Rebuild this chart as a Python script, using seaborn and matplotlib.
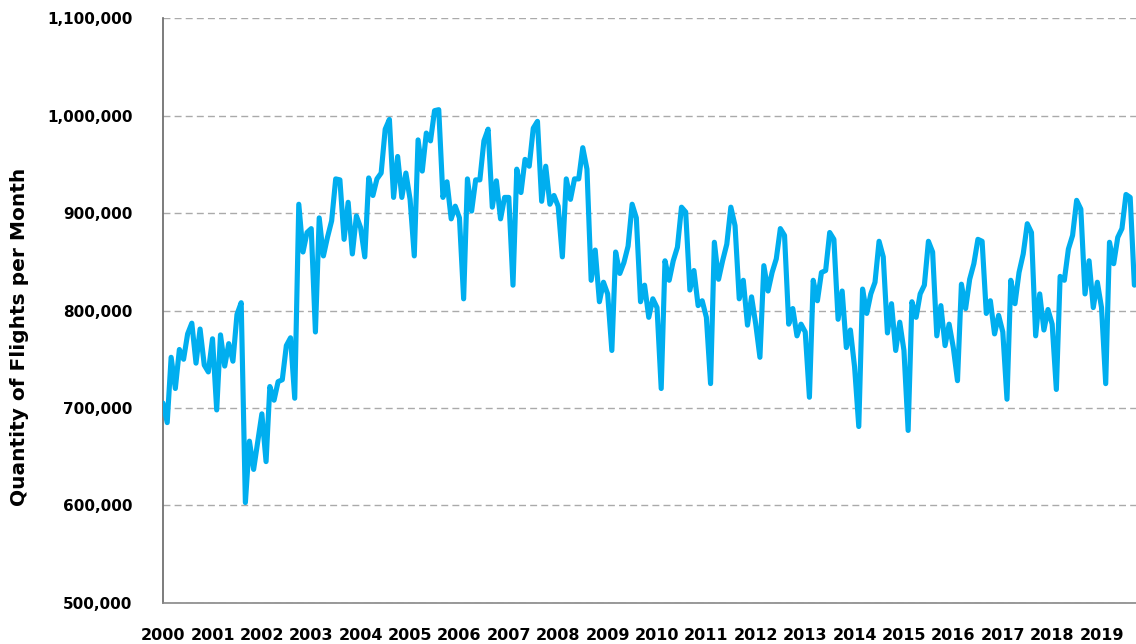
import matplotlib
matplotlib.use("Agg")
import matplotlib.pyplot as plt
import matplotlib.dates as mdates
import matplotlib.ticker as mticker
import pandas as pd
import seaborn as sns

# monthly flights, Jan 2000 .. Sep 2019
flights_2000 = [705000, 685000, 752000, 720000, 760000, 750000, 776000, 787000, 746000, 781000, 744000, 737000]
flights_2001 = [771000, 698000, 775000, 743000, 766000, 748000, 796000, 808000, 603000, 666000, 637000, 665000]
flights_2002 = [694000, 645000, 722000, 708000, 727000, 729000, 764000, 772000, 710000, 909000, 860000, 880000]
flights_2003 = [884000, 778000, 895000, 856000, 875000, 892000, 935000, 934000, 873000, 911000, 858000, 897000]
flights_2004 = [885000, 855000, 936000, 918000, 935000, 941000, 986000, 996000, 916000, 958000, 916000, 941000]
flights_2005 = [914000, 856000, 975000, 943000, 982000, 974000, 1005000, 1006000, 916000, 932000, 894000, 907000]
flights_2006 = [895000, 812000, 935000, 902000, 934000, 934000, 974000, 986000, 906000, 933000, 894000, 916000]
flights_2007 = [916000, 826000, 945000, 921000, 955000, 948000, 987000, 994000, 912000, 948000, 909000, 918000]
flights_2008 = [907000, 855000, 935000, 914000, 935000, 935000, 967000, 945000, 831000, 862000, 809000, 829000]
flights_2009 = [817000, 759000, 860000, 838000, 849000, 866000, 909000, 895000, 809000, 826000, 793000, 812000]
flights_2010 = [803000, 720000, 851000, 831000, 851000, 865000, 906000, 901000, 821000, 841000, 805000, 810000]
flights_2011 = [793000, 725000, 870000, 832000, 851000, 868000, 906000, 887000, 812000, 831000, 785000, 814000]
flights_2012 = [786000, 752000, 846000, 820000, 839000, 853000, 884000, 877000, 786000, 802000, 774000, 786000]
flights_2013 = [778000, 711000, 831000, 810000, 839000, 841000, 880000, 873000, 791000, 820000, 762000, 780000]
flights_2014 = [742000, 681000, 822000, 797000, 817000, 829000, 871000, 855000, 777000, 807000, 759000, 788000]
flights_2015 = [759000, 677000, 809000, 793000, 817000, 826000, 871000, 860000, 774000, 805000, 764000, 786000]
flights_2016 = [762000, 728000, 827000, 802000, 832000, 848000, 873000, 871000, 797000, 810000, 776000, 795000]
flights_2017 = [778000, 709000, 831000, 807000, 839000, 858000, 889000, 880000, 774000, 817000, 780000, 801000]
flights_2018 = [786000, 719000, 835000, 831000, 863000, 877000, 913000, 904000, 817000, 851000, 803000, 829000]
flights_2019 = [803000, 725000, 870000, 848000, 875000, 884000, 919000, 916000, 826000]

flights = (flights_2000 + flights_2001 + flights_2002 + flights_2003 + flights_2004
           + flights_2005 + flights_2006 + flights_2007 + flights_2008 + flights_2009
           + flights_2010 + flights_2011 + flights_2012 + flights_2013 + flights_2014
           + flights_2015 + flights_2016 + flights_2017 + flights_2018 + flights_2019)

df = pd.DataFrame({
    "month": pd.date_range("2000-01-01", periods=len(flights), freq="MS"),
    "flights": flights,
})

sns.set_style("white")
plt.rcParams["font.family"] = ["DejaVu Sans"]
plt.rcParams["text.color"] = "black"
plt.rcParams["axes.labelcolor"] = "black"
plt.rcParams["xtick.color"] = "black"
plt.rcParams["ytick.color"] = "black"

fig = plt.figure(figsize=(11.36, 6.44), dpi=100)
ax = fig.add_axes([0.1435, 0.0637, 0.8565, 0.9083])

ax.grid(axis="y", color="#aaaaaa", linestyle=(0, (5, 3)), linewidth=1)
ax.set_axisbelow(True)

sns.lineplot(data=df, x="month", y="flights", color="#00aeef",
             linewidth=3.7, ax=ax, zorder=3)

ax.set_ylim(500000, 1100000)
ax.set_yticks(range(500000, 1100001, 100000))
ax.yaxis.set_major_formatter(mticker.StrMethodFormatter("{x:,.0f}"))
ax.set_xlim(pd.Timestamp("2000-01-01"), pd.Timestamp("2019-09-13"))
ax.xaxis.set_major_locator(mdates.YearLocator())
ax.xaxis.set_major_formatter(mdates.DateFormatter("%Y"))

ax.set_xlabel("")
ax.set_ylabel("Quantity of Flights per Month", fontsize=14.5, fontweight="bold")
ax.yaxis.set_label_coords(-0.138, 0.455)

for s in ["top", "right"]:
    ax.spines[s].set_visible(False)
ax.spines["left"].set_color("#666666")
ax.spines["bottom"].set_color("#888888")
ax.spines["left"].set_linewidth(1.2)
ax.spines["bottom"].set_linewidth(1.2)

ax.tick_params(axis="y", length=6, color="#555555", pad=16, labelsize=11)
ax.tick_params(axis="x", length=6, color="#666666", pad=12, labelsize=11.5)
for lbl in ax.get_xticklabels() + ax.get_yticklabels():
    lbl.set_fontweight("bold")

fig.savefig("out.png", dpi=100)
